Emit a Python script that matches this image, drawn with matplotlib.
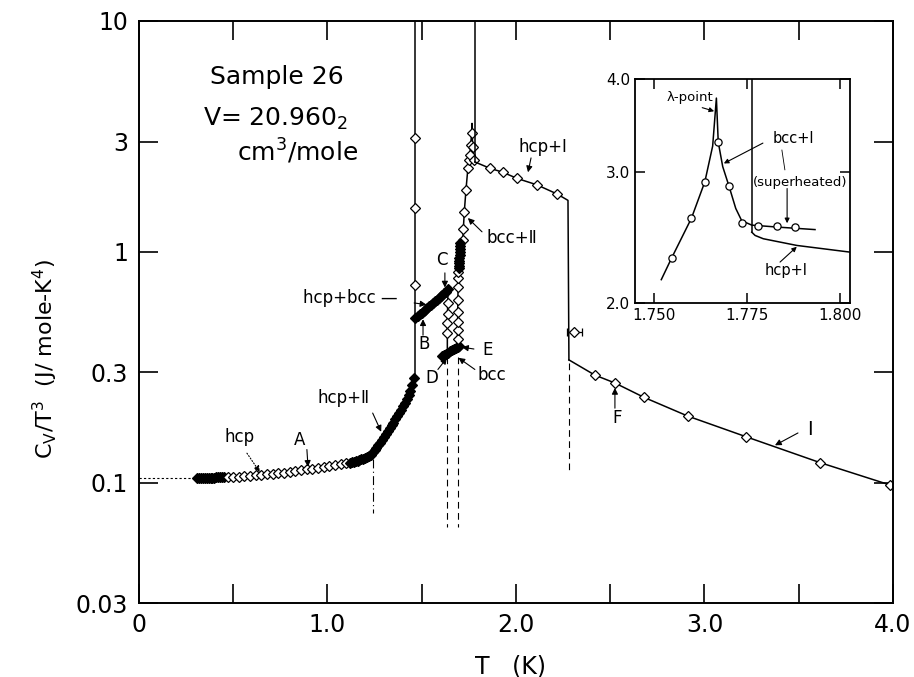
import matplotlib
matplotlib.use("Agg")
from matplotlib import pyplot as plt
from matplotlib.ticker import NullLocator

# values: T in K, Cv/T^3 in J/mole-K^4
hcp_low_T = [0.31, 0.32, 0.33, 0.34, 0.35, 0.36, 0.37, 0.38, 0.39, 0.40, 0.41, 0.42, 0.43, 0.44, 0.45]
hcp_low_v = [0.105, 0.105, 0.105, 0.105, 0.105, 0.105, 0.105, 0.105, 0.1051, 0.1051, 0.1052, 0.1052, 0.1053, 0.1053, 0.1054]

hcp_open_T = [0.47, 0.50, 0.53, 0.56, 0.59, 0.62, 0.65, 0.68, 0.71, 0.74, 0.77,
              0.80, 0.83, 0.86, 0.89, 0.92, 0.95, 0.98, 1.01, 1.04, 1.07, 1.10]
hcp_open_v = [0.1055, 0.106, 0.1062, 0.1065, 0.107, 0.1073, 0.108, 0.1085, 0.109, 0.1097, 0.1105,
              0.111, 0.112, 0.113, 0.114, 0.115, 0.116, 0.117, 0.1185, 0.1195, 0.1205, 0.1215]

hcp_mid_T = [1.12, 1.13, 1.14, 1.15, 1.16, 1.17, 1.18, 1.19, 1.20, 1.21, 1.22, 1.23]
hcp_mid_v = [0.122, 0.1225, 0.123, 0.1235, 0.124, 0.125, 0.126, 0.127, 0.128, 0.129, 0.130, 0.131]

hcp2_T = [1.24, 1.25, 1.26, 1.27, 1.28, 1.29, 1.30, 1.31, 1.32, 1.33, 1.34, 1.35,
          1.36, 1.37, 1.38, 1.39, 1.40, 1.41, 1.42, 1.43, 1.44, 1.45, 1.46]
hcp2_v = [0.135, 0.138, 0.141, 0.145, 0.149, 0.153, 0.158, 0.163, 0.168, 0.172, 0.177, 0.182,
          0.188, 0.194, 0.200, 0.207, 0.214, 0.222, 0.230, 0.239, 0.250, 0.264, 0.283]

edge_T = [1.464, 1.464, 1.464]
edge_v = [0.72, 1.54, 3.1]

hb_T = [1.465, 1.48, 1.49, 1.50, 1.51, 1.52, 1.53, 1.54, 1.55, 1.56, 1.57, 1.58, 1.59,
        1.60, 1.61, 1.62, 1.63, 1.64]
hb_v = [0.516, 0.528, 0.536, 0.545, 0.553, 0.562, 0.571, 0.580, 0.590, 0.599, 0.609, 0.619,
        0.629, 0.640, 0.650, 0.661, 0.672, 0.690]

cd_T = [1.638, 1.637, 1.636, 1.636]
cd_v = [0.60, 0.54, 0.49, 0.445]

de_T = [1.61, 1.62, 1.63, 1.64, 1.65, 1.66, 1.67, 1.68, 1.69, 1.70]
de_v = [0.355, 0.358, 0.362, 0.366, 0.370, 0.374, 0.378, 0.381, 0.385, 0.389]

up_T = [1.690, 1.690, 1.691, 1.691, 1.692, 1.693, 1.694, 1.695]
up_v = [0.42, 0.457, 0.495, 0.55, 0.62, 0.705, 0.77, 0.82]

up_dense_T = [1.696, 1.697, 1.698, 1.699, 1.700, 1.701, 1.702, 1.703, 1.704, 1.705]
up_dense_v = [0.85, 0.87, 0.89, 0.91, 0.94, 0.97, 1.00, 1.03, 1.06, 1.09]

bcc2_T = [1.718, 1.721, 1.726, 1.735, 1.745, 1.752]
bcc2_v = [1.13, 1.26, 1.49, 1.86, 2.30, 2.50]

lam_T = [1.756, 1.760, 1.765, 1.770, 1.775]
lam_v = [2.63, 2.90, 3.28, 2.85, 2.50]
lam_peak = (1.767, 3.6)
melt_T = 1.782   # vertical line to the top
melt_v = 2.45

hcpI_T = [1.862, 1.931, 2.005, 2.111, 2.218]
hcpI_v = [2.30, 2.21, 2.08, 1.95, 1.78]
drop_T = [2.276, 2.281]
drop_v = [1.67, 0.34]

liqI_T = [2.419, 2.525, 2.679, 2.912, 3.22, 3.613, 3.984]
liqI_v = [0.292, 0.27, 0.234, 0.194, 0.158, 0.122, 0.0976]
liqI_end = (4.0, 0.096)

errbar_T, errbar_v, errbar_dT = 2.31, 0.45, 0.04
extrap_v = 0.105

# inset (lambda point region)
in_pts_T = [1.7548, 1.7601, 1.7637, 1.7673, 1.7702, 1.7736, 1.7780, 1.7831, 1.7879]
in_pts_v = [2.30, 2.60, 2.91, 3.29, 2.87, 2.56, 2.54, 2.54, 2.53]
in_line_T = [1.7520, 1.7548, 1.7601, 1.7637, 1.7658, 1.7668, 1.7673, 1.7685, 1.7702,
             1.7720, 1.7736, 1.7763, 1.7830, 1.7933]
in_line_v = [2.15, 2.30, 2.60, 2.91, 3.25, 3.77, 3.29, 3.05, 2.87, 2.68, 2.58, 2.545, 2.53, 2.51]
in_hcp_T = [1.7763, 1.7772, 1.7794, 1.7884, 1.8030]
in_hcp_v = [2.49, 2.465, 2.44, 2.39, 2.34]
in_edge_T = 1.7763

lkw = dict(color="k", lw=1.1)
okw = dict(ls="none", marker="D", ms=4.6, mfc="white", mec="k", mew=0.9)   # open diamonds
fkw = dict(ls="none", marker="D", ms=4.6, mfc="k", mec="k", mew=0.9)       # runs dense enough to look solid
akw = dict(arrowstyle="-|>", color="k", lw=0.8, mutation_scale=9, shrinkA=0, shrinkB=0)


def arrow(ax, tail, tip, **kw):
    props = dict(akw)
    props.update(kw)
    ax.annotate("", xy=tip, xytext=tail, arrowprops=props)


fig = plt.figure(figsize=(9.14, 6.77), dpi=100)
ax = fig.add_axes([0.152, 0.109, 0.825, 0.860])
ax.set_yscale("log")
ax.set_xlim(0, 4.0)
ax.set_ylim(0.03, 10)

# hcp branch
ax.plot([0, hcp_low_T[0]], [extrap_v, extrap_v], ls=(0, (2, 2)), color="k", lw=0.8)
ax.plot(hcp_low_T + hcp_open_T + hcp_mid_T + hcp2_T,
        hcp_low_v + hcp_open_v + hcp_mid_v + hcp2_v, **lkw)
ax.plot(hcp_low_T, hcp_low_v, **fkw)
ax.plot(hcp_open_T, hcp_open_v, **okw)
ax.plot(hcp_mid_T, hcp_mid_v, **fkw)
ax.plot(hcp2_T, hcp2_v, **fkw)
ax.plot([edge_T[0], edge_T[0]], [hcp2_v[-1], 10], **lkw)
ax.plot(edge_T, edge_v, **okw)

# hcp+bcc, C -> D, D -> E
ax.plot(hb_T, hb_v, **lkw)
ax.plot(hb_T, hb_v, **fkw)
ax.plot([hb_T[-1]] + cd_T + [cd_T[-1]], [hb_v[-1]] + cd_v + [de_v[2]], **lkw)
ax.plot(cd_T, cd_v, **okw)
ax.plot(de_T, de_v, **lkw)
ax.plot(de_T, de_v, **fkw)

# bcc, bcc+II up to the lambda peak
ax.plot([de_T[-2]] + up_T + up_dense_T + bcc2_T + lam_T[:3] + [lam_peak[0]] + lam_T[3:] + [melt_T],
        [de_v[-2]] + up_v + up_dense_v + bcc2_v + lam_v[:3] + [lam_peak[1]] + lam_v[3:] + [melt_v],
        **lkw)
ax.plot(up_T + bcc2_T + lam_T, up_v + bcc2_v + lam_v, **okw)
ax.plot(up_dense_T, up_dense_v, **fkw)
ax.plot([melt_T, melt_T], [melt_v, 10], **lkw)

# hcp+I, drop, liquid I
ax.plot([melt_T] + hcpI_T + drop_T, [melt_v] + hcpI_v + drop_v, **lkw)
ax.plot(hcpI_T, hcpI_v, **okw)
ax.plot([drop_T[1]] + liqI_T + [liqI_end[0]], [drop_v[1]] + liqI_v + [liqI_end[1]], **lkw)
ax.plot(liqI_T, liqI_v, **okw)
ax.errorbar(errbar_T, errbar_v, xerr=errbar_dT, fmt="D", ms=4.6, mfc="white", mec="k",
            mew=0.9, ecolor="k", elinewidth=0.9, capsize=3)

# vertical transition markers
ax.plot([1.24, 1.24], [0.127, 0.0735], ls=(0, (8, 3, 1, 3)), color="k", lw=0.8)
ax.plot([1.634, 1.634], [0.35, 0.064], ls=(0, (6, 4)), color="k", lw=0.8)
ax.plot([1.692, 1.692], [0.35, 0.064], ls=(0, (6, 4)), color="k", lw=0.8)
ax.plot([2.28, 2.28], [0.33, 0.11], ls=(0, (6, 4)), color="k", lw=0.8)

# axes style
ax.set_yticks([0.03, 0.1, 0.3, 1, 3, 10])
ax.set_yticklabels(["0.03", "0.1", "0.3", "1", "3", "10"])
ax.yaxis.set_minor_locator(NullLocator())
ax.set_xticks([0, 1, 2, 3, 4])
ax.set_xticklabels(["0", "1.0", "2.0", "3.0", "4.0"])
ax.set_xticks([0.5, 1.5, 2.5, 3.5], minor=True)
ax.tick_params(which="both", direction="in", top=True, right=True, length=14, width=1.2,
               labelsize=17)
ax.tick_params(axis="x", pad=7)
ax.tick_params(axis="y", pad=8)
for s in ax.spines.values():
    s.set_linewidth(1.4)

fig.text(0.558, 0.016, "T   (K)", ha="center", va="center", fontsize=17)
fig.text(0.050, 0.47, r"C$_\mathregular{V}$/T$^3$  (J/ mole-K$^4$)", ha="center", va="center",
         rotation=90, fontsize=16)

# sample text
ax.text(0.732, 5.7, "Sample 26", ha="center", va="center", fontsize=18)
ax.text(0.727, 3.78, r"V= 20.960$_2$", ha="center", va="center", fontsize=18)
ax.text(0.843, 2.71, r"cm$^3$/mole", ha="center", va="center", fontsize=18)

# labels with arrows
fs = 12
ax.text(0.536, 0.157, "hcp", ha="center", va="center", fontsize=fs)
arrow(ax, (0.573, 0.134), (0.642, 0.1108), ls=":")
ax.text(0.854, 0.153, "A", ha="center", va="center", fontsize=fs)
arrow(ax, (0.891, 0.139), (0.897, 0.117))
ax.text(1.088, 0.2325, "hcp+Ⅱ", ha="center", va="center", fontsize=fs)
arrow(ax, (1.24, 0.20), (1.285, 0.166))
ax.text(1.119, 0.63, "hcp+bcc —", ha="center", va="center", fontsize=fs)
arrow(ax, (1.46, 0.60), (1.525, 0.59))
ax.text(1.607, 0.92, "C", ha="center", va="center", fontsize=fs)
arrow(ax, (1.623, 0.81), (1.623, 0.70))
ax.text(1.512, 0.40, "B", ha="center", va="center", fontsize=fs)
arrow(ax, (1.507, 0.435), (1.507, 0.51))
ax.text(1.851, 0.375, "E", ha="center", va="center", fontsize=fs)
arrow(ax, (1.777, 0.379), (1.714, 0.386))
ax.text(1.554, 0.284, "D", ha="center", va="center", fontsize=fs)
arrow(ax, (1.586, 0.309), (1.634, 0.347))
ax.text(1.873, 0.292, "bcc", ha="center", va="center", fontsize=fs)
arrow(ax, (1.782, 0.309), (1.695, 0.347))
ax.text(1.979, 1.15, "bcc+Ⅱ", ha="center", va="center", fontsize=fs)
arrow(ax, (1.82, 1.22), (1.745, 1.40))
ax.text(2.143, 2.84, "hcp+Ⅰ", ha="center", va="center", fontsize=fs)
arrow(ax, (2.080, 2.55), (2.064, 2.21))
ax.text(2.536, 0.19, "F", ha="center", va="center", fontsize=fs)
arrow(ax, (2.525, 0.21), (2.525, 0.257))
ax.text(3.56, 0.169, "Ⅰ", ha="center", va="center", fontsize=fs + 2)
arrow(ax, (3.496, 0.164), (3.374, 0.145))

# inset
axi = fig.add_axes([0.695, 0.5524, 0.235, 0.331])
axi.set_yscale("log")
axi.set_xlim(1.745, 1.8027)
axi.set_ylim(2.0, 4.0)
axi.plot(in_line_T, in_line_v, **lkw)
axi.plot(in_pts_T, in_pts_v, ls="none", marker="o", ms=5.2, mfc="white", mec="k", mew=0.9)
axi.plot([in_edge_T, in_edge_T], [in_hcp_v[0], 4.0], **lkw)
axi.plot(in_hcp_T, in_hcp_v, **lkw)
axi.set_xticks([1.750, 1.775, 1.800])
axi.set_xticklabels(["1.750", "1.775", "1.800"])
axi.set_yticks([2, 3, 4])
axi.set_yticklabels(["2.0", "3.0", "4.0"])
axi.yaxis.set_minor_locator(NullLocator())
axi.xaxis.set_minor_locator(NullLocator())
axi.tick_params(which="both", direction="in", top=True, right=True, length=7, width=1.1,
                labelsize=11)
for s in axi.spines.values():
    s.set_linewidth(1.3)

fi = 9.5
axi.text(1.7597, 3.78, "λ-point", ha="center", va="center", fontsize=fi)
arrow(axi, (1.7630, 3.66), (1.7662, 3.62), mutation_scale=7)
axi.text(1.7876, 3.33, "bcc+Ⅰ", ha="center", va="center", fontsize=fi + 1)
arrow(axi, (1.7793, 3.28), (1.7688, 3.08), mutation_scale=7)
axi.plot([1.7844, 1.7852], [3.21, 3.02], color="k", lw=0.6)
axi.text(1.7892, 2.90, "(superheated)", ha="center", va="center", fontsize=fi)
arrow(axi, (1.7858, 2.85), (1.7858, 2.56), mutation_scale=7)
axi.text(1.7855, 2.21, "hcp+Ⅰ", ha="center", va="center", fontsize=fi + 1)
arrow(axi, (1.7839, 2.27), (1.7884, 2.38), mutation_scale=7)

fig.savefig("out.png", dpi=100)
